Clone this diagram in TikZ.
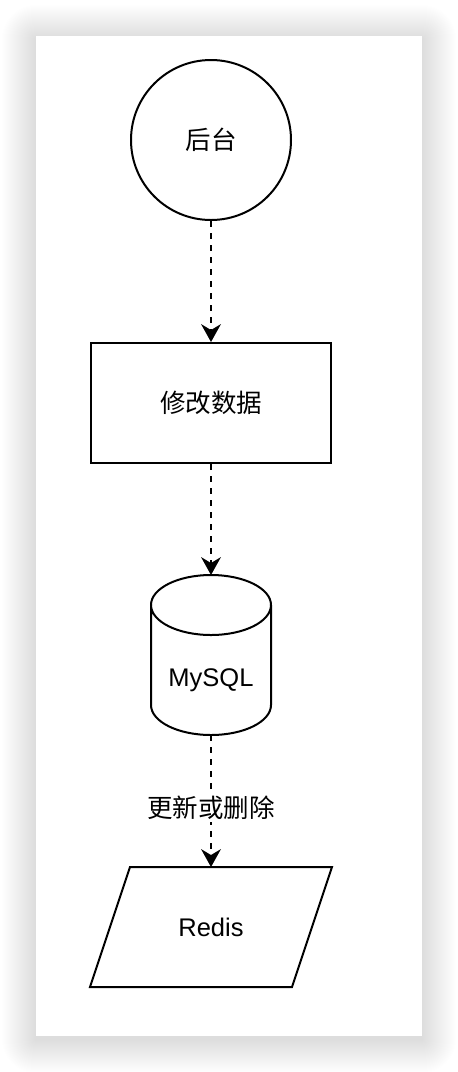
\documentclass[tikz,border=0pt]{standalone}
\usepackage{fontspec}
\setmainfont{Liberation Sans}
\newfontfamily\cjk{Noto Sans CJK SC}
\usetikzlibrary{shapes.geometric,arrows.meta}
\begin{document}
\begin{tikzpicture}[x=1pt,y=-1pt,
  shape line/.style={draw=black,line width=2pt,fill=white},
  lbl/.style={font=\fontsize{25.5}{30}\selectfont},
  flow/.style={draw=black,line width=2pt,dash pattern=on 6pt off 6pt,-{Stealth[length=18pt,width=20pt,inset=6pt,line width=0pt]}}]
\useasboundingbox (0,0) rectangle (458,1072);
\foreach \i in {1,...,34} {
  \fill[black,opacity=0.0045,rounded corners=\i pt] (36-\i,36-\i+3) rectangle (422+\i,1036+\i+3);
}
\fill[white] (36,36) rectangle (422,1036);
% circle
\node[shape line,circle,minimum size=160pt,inner sep=0pt,lbl] (bg) at (211,140) {\cjk 后台};
% rectangle
\node[shape line,rectangle,minimum width=240pt,minimum height=120pt,inner sep=0pt,lbl] (edit) at (211,403) {\cjk 修改数据};
% cylinder
\coordinate (dbtop) at (211,575);
\coordinate (dbbot) at (211,735);
\draw[shape line] (151,605) -- (151,705) arc[start angle=180,end angle=360,x radius=60pt,y radius=30pt] -- (271,605) arc[start angle=0,end angle=-180,x radius=60pt,y radius=30pt] -- cycle;
\draw[shape line,fill=none] (151,605) arc[start angle=180,end angle=0,x radius=60pt,y radius=30pt];
\node[lbl] (mysql) at (211,680) {MySQL};
% parallelogram
\coordinate (rtop) at (211,867);
\draw[shape line] (130,867) -- (332,867) -- (292,987) -- (90,987) -- cycle;
\node[lbl] (redis) at (211,927) {Redis};
% arrows
\draw[flow] (bg.south) -- (edit.north);
\draw[flow] (edit.south) -- (dbtop);
\draw[flow] (dbbot) -- node[fill=white,inner sep=3pt,lbl,pos=0.55] (upd) {\cjk 更新或删除} (rtop);
\end{tikzpicture}
\end{document}
